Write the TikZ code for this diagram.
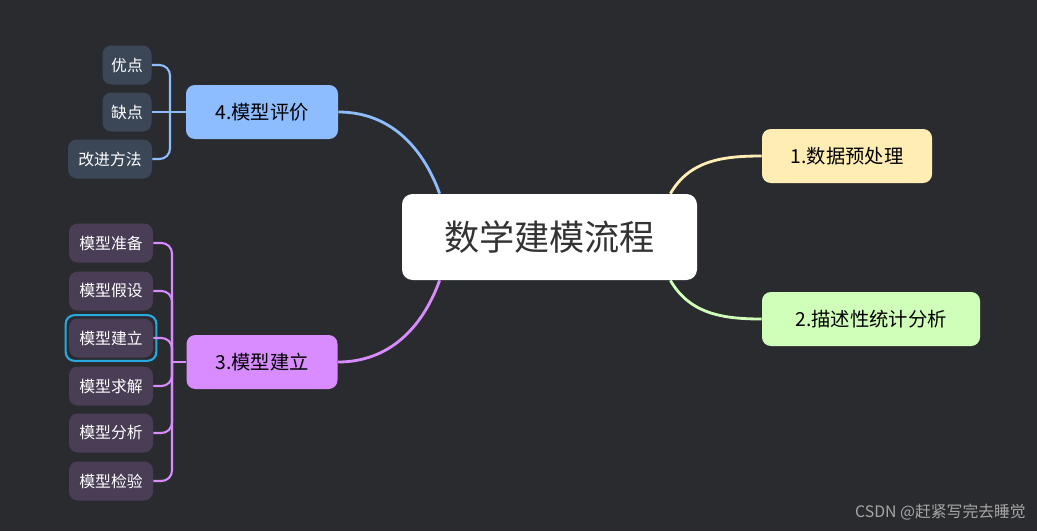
\documentclass[tikz,border=0pt]{standalone}
\usepackage{fontspec}
\setmainfont{Noto Sans CJK SC}
\usetikzlibrary{positioning}
\definecolor{bgdark}{HTML}{2A2B2F}
\definecolor{topicY}{HTML}{FFEDB3}
\definecolor{topicG}{HTML}{CFFFB8}
\definecolor{topicB}{HTML}{8DBDFF}
\definecolor{topicP}{HTML}{D98CFF}
\definecolor{leafB}{HTML}{3B4757}
\definecolor{leafP}{HTML}{4A3D56}
\definecolor{selcyan}{HTML}{29A9E0}

\begin{document}
\begin{tikzpicture}[x=0.02cm,y=-0.02cm,
    topic/.style={rounded corners=5pt, minimum height=54*0.02cm, inner xsep=6pt,
        font=\fontsize{11}{13}\selectfont, text=black},
    leaf/.style={rounded corners=5pt, minimum height=39*0.02cm, inner xsep=4pt,
        font=\fontsize{9}{11}\selectfont, text=white},
    link/.style={line width=1.6pt},
    brace/.style={line width=1.2pt, rounded corners=6pt}]
    \useasboundingbox[fill=bgdark] (0,0) rectangle (1037,531);

    \node[fill=white, rounded corners=6pt, minimum width=295*0.02cm, minimum height=86*0.02cm,
        font=\fontsize{20}{24}\selectfont, text=black!80] (root) at (549.5,237) {数学建模流程};

    \node[topic, fill=topicY, minimum width=170*0.02cm] (t1) at (847,156) {1.数据预处理};
    \node[topic, fill=topicG, minimum width=218*0.02cm] (t2) at (871,319) {2.描述性统计分析};
    \node[topic, fill=topicB, minimum width=152*0.02cm] (t4) at (262,112) {4.模型评价};
    \node[topic, fill=topicP, minimum width=151*0.02cm] (t3) at (262,362) {3.模型建立};

    \draw[link, topicY] (root.north east) ++(-27,0) coordinate (r1) (r1) to[out=60, in=180] (t1.west);
    \draw[link, topicG] (root.south east) ++(-27,0) coordinate (r2) (r2) to[out=-60, in=180] (t2.west);
    \draw[link, topicB] (root.north west) ++(38,0) coordinate (r4) (r4) to[out=110, in=0] (t4.east);
    \draw[link, topicP] (root.south west) ++(38,0) coordinate (r3) (r3) to[out=-110, in=0] (t3.east);

    % evaluation leaves
    \node[leaf, fill=leafB, minimum width=49*0.02cm] (b1) at (127,65) {优点};
    \node[leaf, fill=leafB, minimum width=49*0.02cm] (b2) at (127,112) {缺点};
    \node[leaf, fill=leafB, minimum width=84*0.02cm] (b3) at (110,159) {改进方法};
    \coordinate (jb) at (170,112);
    \draw[brace, topicB] (b1.east) -| (jb) |- (b3.east);
    \draw[brace, topicB] (b2.east) -- (t4.west);

    % model leaves
    \foreach \name/\txt/\yy in {p1/模型准备/243, p2/模型假设/291, p3/模型建立/338,
                               p4/模型求解/386, p5/模型分析/433, p6/模型检验/481}
        \node[leaf, fill=leafP, minimum width=84*0.02cm] (\name) at (111,\yy) {\txt};
    \draw[selcyan, line width=1.2pt, rounded corners=5pt]
        ([shift={(-3,-3)}]p3.north west) rectangle ([shift={(3,3)}]p3.south east);
    \coordinate (jp) at (172,362);
    \draw[brace, topicP] (p1.east) -| (jp) |- (p6.east);
    \draw[brace, topicP] (jp) -- (t3.west);
    \foreach \name in {p2,p3,p4,p5}
        \draw[brace, topicP] (\name.east) -| (jp);

    \node[text=gray!70, font=\fontsize{9}{11}\selectfont, anchor=east] (mark) at (1032,512) {CSDN @赶紧写完去睡觉};
\end{tikzpicture}
\end{document}
